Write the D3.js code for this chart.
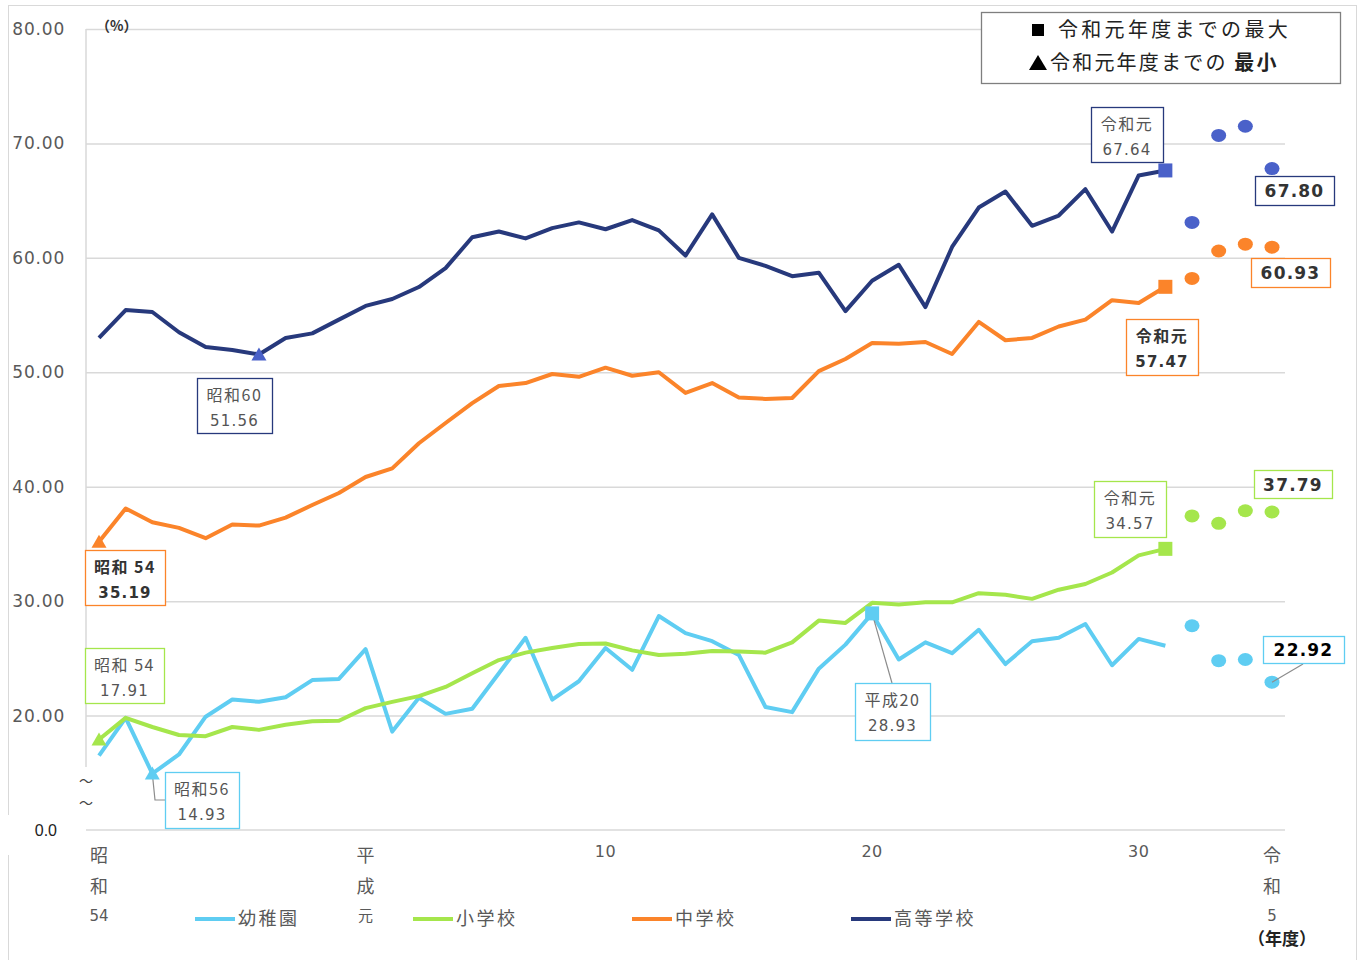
<!DOCTYPE html>
<html>
<head>
<meta charset="utf-8">
<script src="https://cdn.jsdelivr.net/npm/d3@7"></script>
<style>
  body { margin: 0; background: #fff; }
  svg { display: block; }
</style>
</head>
<body>
<div id="chart"></div>
<script>
// 年度 index: 0 = 昭和54 ... 10 = 平成元 ... 40 = 令和元 ... 44 = 令和5
var kinder = [16.5, 19.8, 14.93, 16.6, 19.9, 21.4, 21.2, 21.6, 23.1, 23.2, 25.8, 18.6, 21.55, 20.15, 20.6,
  23.7, 26.8, 21.4, 23.0, 25.9, 24.0, 28.7, 27.2, 26.5, 25.3, 20.75, 20.3, 24.1, 26.2, 28.93,
  24.9, 26.4, 25.45, 27.5, 24.5, 26.5, 26.8, 28.0, 24.4, 26.7, 26.1];
var kinderRecent = [27.85, 24.8, 24.9, 22.92];

var elementary = [17.91, 19.8, 19.0, 18.3, 18.2, 19.0, 18.75, 19.2, 19.5, 19.55, 20.65, 21.2, 21.7, 22.5, 23.7,
  24.85, 25.5, 25.9, 26.25, 26.3, 25.7, 25.3, 25.4, 25.65, 25.6, 25.5, 26.4, 28.3, 28.1, 29.85,
  29.7, 29.9, 29.9, 30.7, 30.55, 30.2, 31.0, 31.5, 32.5, 34.0, 34.57];
var elementaryRecent = [37.45, 36.8, 37.9, 37.79];

var junior = [35.19, 38.1, 36.9, 36.4, 35.5, 36.7, 36.6, 37.3, 38.4, 39.45, 40.85, 41.6, 43.8, 45.57, 47.3,
  48.8, 49.06, 49.85, 49.6, 50.4, 49.7, 50.0, 48.2, 49.06, 47.8, 47.67, 47.75, 50.1, 51.16, 52.56,
  52.5, 52.65, 51.6, 54.4, 52.8, 53.0, 54.0, 54.6, 56.3, 56.05, 57.47];
var juniorRecent = [58.2, 60.6, 61.2, 60.93];

var high = [53.0, 55.44, 55.27, 53.5, 52.2, 51.95, 51.56, 53.0, 53.4, 54.6, 55.8, 56.4, 57.45, 59.1, 61.8,
  62.3, 61.7, 62.6, 63.1, 62.5, 63.3, 62.4, 60.2, 63.8, 60.0, 59.3, 58.4, 58.7, 55.35, 58.0,
  59.4, 55.7, 60.95, 64.4, 65.8, 62.8, 63.7, 66.0, 62.3, 67.2, 67.64];
var highRecent = [63.1, 70.7, 71.5, 67.8];

var seriesNames = ["幼稚園", "小学校", "中学校", "高等学校"];
var yTicks = [20, 30, 40, 50, 60, 70, 80];
var xTickLabels = [
  {i: 0, text: ["昭", "和", "54"]},
  {i: 10, text: ["平", "成", "元"]},
  {i: 19, text: ["10"]},
  {i: 29, text: ["20"]},
  {i: 39, text: ["30"]},
  {i: 44, text: ["令", "和", "5"]}
];

var W = 1362, H = 960;
var plotLeft = 86, plotRight = 1285;
var numFont = "'DejaVu Sans', 'Noto Sans CJK JP', sans-serif";
var jpFont = "'Noto Sans CJK JP', sans-serif";

var svg = d3.select("#chart").append("svg")
  .attr("width", W)
  .attr("height", H);

// outer frame
svg.append("rect")
  .attr("x", 8.5).attr("y", 5.5)
  .attr("width", 1348).attr("height", H)
  .attr("fill", "#fff")
  .attr("stroke", "#d9d9d9");

var x = d3.scaleLinear().domain([0, 44]).range([99, 1272]);
// broken axis: bottom line stands for 0.0 but scale runs 10..80
var y = d3.scaleLinear().domain([10, 80]).range([830, 29]);

// grid + y axis
var yAxis = svg.append("g")
  .attr("transform", "translate(" + plotLeft + ",0)")
  .call(d3.axisLeft(y).tickValues(yTicks)
    .tickSize(-(plotRight - plotLeft))
    .tickPadding(21)
    .tickFormat(d3.format(".2f")));
yAxis.select(".domain").remove();
yAxis.selectAll(".tick line").attr("stroke", "#d9d9d9").attr("stroke-width", 1.5);
yAxis.selectAll(".tick text")
  .attr("fill", "#595959")
  .attr("font-family", numFont)
  .attr("font-size", 17)
  .attr("letter-spacing", 0.8);

// bottom line (0.0)
svg.append("line")
  .attr("x1", plotLeft).attr("x2", plotRight)
  .attr("y1", y(10)).attr("y2", y(10))
  .attr("stroke", "#d9d9d9").attr("stroke-width", 1.5);
// vertical axis line, broken near the bottom
svg.append("line")
  .attr("x1", plotLeft).attr("x2", plotLeft)
  .attr("y1", y(80)).attr("y2", 767)
  .attr("stroke", "#d9d9d9").attr("stroke-width", 1.5);
svg.append("text")
  .attr("x", 57).attr("y", y(10) + 6)
  .attr("text-anchor", "end")
  .attr("font-family", "'Liberation Sans', Arial, sans-serif")
  .attr("font-size", 16)
  .attr("fill", "#222")
  .text("0.0");
[786, 808].forEach(function(yy) {
  svg.append("text")
    .attr("x", plotLeft).attr("y", yy)
    .attr("text-anchor", "middle")
    .attr("font-family", jpFont)
    .attr("font-size", 14)
    .attr("fill", "#444")
    .text("～");
});
// small white patch over the frame at the break
svg.append("rect").attr("x", 0).attr("y", 815).attr("width", 30).attr("height", 40).attr("fill", "#fff");

svg.append("text")
  .attr("x", 96).attr("y", 31)
  .attr("font-family", jpFont)
  .attr("font-size", 14)
  .attr("font-weight", "bold")
  .attr("fill", "#333")
  .text("（%）");

// x labels
xTickLabels.forEach(function(t) {
  var g = svg.append("g");
  if (t.text.length === 1) {
    g.append("text")
      .attr("x", x(t.i)).attr("y", 857)
      .attr("text-anchor", "middle")
      .attr("font-family", numFont).attr("font-size", 16)
      .attr("fill", "#595959").attr("letter-spacing", 0.5)
      .text(t.text[0]);
  } else {
    t.text.forEach(function(s, k) {
      g.append("text")
        .attr("x", x(t.i)).attr("y", k === 2 ? 921 : 862 + k * 31)
        .attr("text-anchor", "middle")
        .attr("font-family", k === 2 ? numFont : jpFont)
        .attr("font-size", k === 2 ? 15 : 18)
        .attr("fill", "#595959")
        .text(s);
    });
  }
});
svg.append("text")
  .attr("x", 1282).attr("y", 945)
  .attr("text-anchor", "middle")
  .attr("font-family", jpFont).attr("font-size", 17)
  .attr("font-weight", "bold").attr("fill", "#222")
  .text("（年度）");

var colors = ["#5fcdf2", "#a5e64c", "#fb842a", "#27397c"];
var markColors = ["#5fcdf2", "#a5e64c", "#fb842a", "#4a61c9"];
var lines = [kinder, elementary, junior, high];
var recents = [kinderRecent, elementaryRecent, juniorRecent, highRecent];

var line = d3.line()
  .x(function(d, i) { return x(i); })
  .y(function(d) { return y(d); });

lines.forEach(function(vals, s) {
  svg.append("path")
    .datum(vals)
    .attr("fill", "none")
    .attr("stroke", colors[s])
    .attr("stroke-width", 4)
    .attr("stroke-linejoin", "round")
    .attr("d", line);
});

// forecast dots (令和2〜5)
recents.forEach(function(vals, s) {
  svg.append("g").selectAll("ellipse")
    .data(vals)
    .enter().append("ellipse")
    .attr("cx", function(d, i) { return x(41 + i); })
    .attr("cy", function(d) { return y(d); })
    .attr("rx", 7.5).attr("ry", 6.5)
    .attr("fill", markColors[s]);
});

// leader lines
function leader(pts) {
  svg.append("polyline")
    .attr("points", pts.map(function(p) { return p.join(","); }).join(" "))
    .attr("fill", "none").attr("stroke", "#8c8c8c").attr("stroke-width", 1.2);
}
leader([[x(2), y(kinder[2])], [155, 800], [165, 800]]);
leader([[x(29), y(kinder[29])], [892, 683]]);
leader([[x(44), y(kinderRecent[3])], [1303, 664]]);

// min / max markers
function minIdx(a) { return a.indexOf(d3.min(a)); }
function maxIdx(a) { return a.indexOf(d3.max(a)); }
lines.forEach(function(vals, s) {
  var mi = minIdx(vals), ma = maxIdx(vals);
  var px = x(mi), py = y(vals[mi]);
  svg.append("path")
    .attr("d", "M" + px + "," + (py - 7) + "L" + (px + 7.5) + "," + (py + 6) + "L" + (px - 7.5) + "," + (py + 6) + "Z")
    .attr("fill", markColors[s]);
  svg.append("rect")
    .attr("x", x(ma) - 7).attr("y", y(vals[ma]) - 7)
    .attr("width", 14).attr("height", 14)
    .attr("fill", markColors[s]);
});

// annotation boxes
var boxes = [
  {s: 3, box: [197, 378, 75, 55], lines: ["昭和60", "51.56"], bold: false},
  {s: 3, box: [1091, 107, 72, 55], lines: ["令和元", "67.64"], bold: false},
  {s: 3, box: [1255, 176, 79, 29], lines: ["67.80"], bold: true},
  {s: 2, box: [85, 550, 80, 55], lines: ["昭和 54", "35.19"], bold: true},
  {s: 2, box: [1126, 319, 72, 56], lines: ["令和元", "57.47"], bold: true},
  {s: 2, box: [1251, 258, 79, 29], lines: ["60.93"], bold: true},
  {s: 1, box: [85, 648, 79, 55], lines: ["昭和 54", "17.91"], bold: false},
  {s: 1, box: [1094, 481, 72, 56], lines: ["令和元", "34.57"], bold: false},
  {s: 1, box: [1254, 470, 78, 28], lines: ["37.79"], bold: true},
  {s: 0, box: [165, 772, 74, 56], lines: ["昭和56", "14.93"], bold: false},
  {s: 0, box: [855, 683, 75, 57], lines: ["平成20", "28.93"], bold: false},
  {s: 0, box: [1263, 636, 81, 27], lines: ["22.92"], bold: true, dark: true}
];
boxes.forEach(function(b) {
  var g = svg.append("g");
  g.append("rect")
    .attr("x", b.box[0] + 0.5).attr("y", b.box[1] + 0.5)
    .attr("width", b.box[2]).attr("height", b.box[3])
    .attr("fill", "#fff")
    .attr("stroke", colors[b.s]).attr("stroke-width", 1.3);
  var cx = b.box[0] + b.box[2] / 2;
  b.lines.forEach(function(t, k) {
    var isNum = /^[0-9.]+$/.test(t);
    g.append("text")
      .attr("x", cx)
      .attr("y", b.lines.length === 1 ? b.box[1] + b.box[3] / 2 + 6.5 : b.box[1] + 23 + k * 25)
      .attr("text-anchor", "middle")
      .attr("font-family", isNum ? numFont : jpFont)
      .attr("font-size", b.lines.length === 1 ? 17 : (isNum ? 15 : 16))
      .attr("font-weight", b.bold ? "bold" : "normal")
      .attr("letter-spacing", isNum ? 1.2 : 1.5)
      .attr("fill", b.dark ? "#000" : (b.bold ? "#333" : "#555"))
      .text(t);
  });
});

// marker legend (top right)
var lg = svg.append("g");
lg.append("rect")
  .attr("x", 981.5).attr("y", 12.5).attr("width", 359).attr("height", 71)
  .attr("fill", "#fff").attr("stroke", "#7f7f7f").attr("stroke-width", 1.3);
lg.append("rect").attr("x", 1032).attr("y", 24).attr("width", 12).attr("height", 12).attr("fill", "#000");
lg.append("text")
  .attr("x", 1058).attr("y", 37)
  .attr("font-family", jpFont).attr("font-size", 20).attr("letter-spacing", 3.3).attr("fill", "#222")
  .text("令和元年度までの最大");
lg.append("path").attr("d", "M1038,55L1047,70L1029,70Z").attr("fill", "#000");
var t2 = lg.append("text")
  .attr("x", 1050).attr("y", 70)
  .attr("font-family", jpFont).attr("font-size", 20).attr("letter-spacing", 2.2).attr("fill", "#222");
t2.append("tspan").text("令和元年度までの ");
t2.append("tspan").attr("font-weight", "bold").text("最小");

// series legend (bottom)
var legendX = [195, 413, 632, 851];
seriesNames.forEach(function(name, s) {
  svg.append("line")
    .attr("x1", legendX[s]).attr("x2", legendX[s] + 40)
    .attr("y1", 919).attr("y2", 919)
    .attr("stroke", colors[s]).attr("stroke-width", 4);
  svg.append("text")
    .attr("x", legendX[s] + 43).attr("y", 925)
    .attr("font-family", jpFont).attr("font-size", 18)
    .attr("letter-spacing", 2.5)
    .attr("fill", "#595959")
    .text(name);
});
</script>
</body>
</html>
